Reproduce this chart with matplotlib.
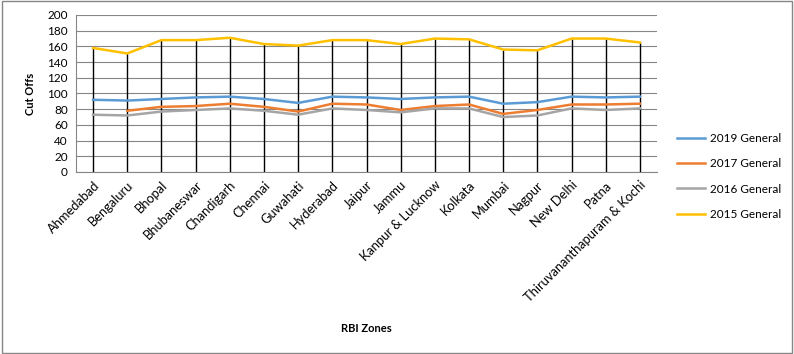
import matplotlib.pyplot as plt
from matplotlib.patches import Rectangle
import numpy as np

plt.rcParams['font.family'] = ['Lato', 'DejaVu Sans']

zones = ['Ahmedabad', 'Bengaluru', 'Bhopal', 'Bhubaneswar', 'Chandigarh', 'Chennai',
         'Guwahati', 'Hyderabad', 'Jaipur', 'Jammu', 'Kanpur & Lucknow', 'Kolkata',
         'Mumbai', 'Nagpur', 'New Delhi', 'Patna', 'Thiruvananthapuram & Kochi']

gen_2019 = [92, 91, 93, 95, 96, 93, 88, 96, 95, 93, 95, 96, 87, 89, 96, 95, 96]
gen_2017 = [np.nan, 78, 83, 84, 87, 83, 77, 87, 86, 79, 84, 86, 74, 79, 86, 86, 87]
gen_2016 = [73, 72, 77, 79, 81, 78, 73, 81, 79, 76, 81, 81, 70, 72, 81, 79, 81]
gen_2015 = [158, 151, 168, 168, 171, 163, 161, 168, 168, 163, 170, 169, 156, 155, 170, 170, 165]

fig = plt.figure(figsize=(7.94, 3.54), dpi=100)
ax = fig.add_axes([76/794, 1 - 172/354, (657-76)/794, 157/354])

x = np.arange(len(zones))
tops = np.nanmax(np.array([gen_2019, gen_2017, gen_2016, gen_2015]), axis=0)
ax.vlines(x, 0, tops, color='black', lw=1.0, zorder=2)

ax.plot(x, gen_2019, color='#5B9BD5', lw=1.8, label='2019 General', zorder=3)
ax.plot(x, gen_2017, color='#ED7D31', lw=1.8, label='2017 General', zorder=3)
ax.plot(x, gen_2016, color='#A5A5A5', lw=1.8, label='2016 General', zorder=3)
ax.plot(x, gen_2015, color='#FFC000', lw=1.8, label='2015 General', zorder=3)

ax.set_xlim(-0.5, len(zones) - 0.5)
ax.set_ylim(0, 200)
ax.set_yticks(range(0, 201, 20))
ax.set_xticks(x)
ax.set_xticklabels(zones, rotation=45, ha='right', rotation_mode='anchor', fontsize=9.3)
ax.tick_params(axis='y', labelsize=8.5, length=0, pad=6)
ax.tick_params(axis='x', length=0, pad=5)

ax.grid(axis='y', color='#868686', lw=0.8)
ax.set_axisbelow(True)
for s in ['top', 'right']:
    ax.spines[s].set_visible(False)
for s in ['left', 'bottom']:
    ax.spines[s].set_color('#868686')
    ax.spines[s].set_linewidth(0.8)

ax.set_ylabel('Cut Offs', fontsize=8, fontweight='bold', labelpad=8)
fig.text(366/794, 1 - 328/354, 'RBI Zones', fontsize=8, fontweight='bold', ha='center', va='center')

fig.legend(loc='center left', bbox_to_anchor=(677/794, 1 - 176.5/354), frameon=False,
           fontsize=8.5, handlelength=2.4, labelspacing=1.2, handletextpad=0.4,
           borderpad=0, borderaxespad=0)

fig.patches.append(Rectangle((0.003, 0.004), 0.994, 0.992, transform=fig.transFigure,
                             fill=False, edgecolor='#868686', lw=1))

plt.savefig('out.png', dpi=100)
